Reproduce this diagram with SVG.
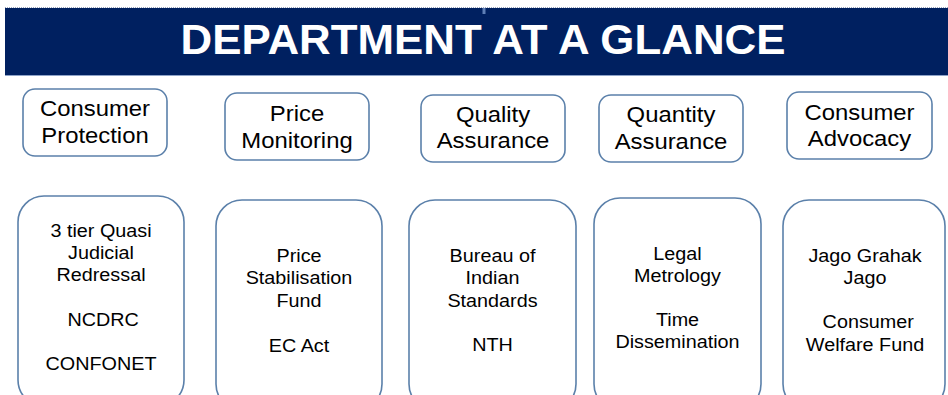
<svg xmlns="http://www.w3.org/2000/svg" width="948" height="395" viewBox="0 0 948 395">
  <style>
    .head { fill: #002060; }
    .box { fill: #ffffff; stroke: #5b80aa; stroke-width: 1.6; }
    .title { font-family: "Liberation Sans", Arial, sans-serif; font-weight: bold; font-size: 43px; fill: #ffffff; text-anchor: middle; }
    .lbl { font-family: "Liberation Sans", Arial, sans-serif; font-size: 22.3px; fill: #000000; text-anchor: middle; }
    .sub { font-family: "Liberation Sans", Arial, sans-serif; font-size: 18.5px; fill: #000000; text-anchor: middle; }
  </style>

  <rect width="948" height="395" fill="#ffffff"/>

  <!-- title band -->
  <g id="header">
    <line x1="5" y1="7.5" x2="948" y2="7.5" stroke="#9aa6c0" stroke-width="1" stroke-dasharray="1 1"/>
    <rect class="head" x="5" y="8" width="943" height="67"/>
    <line x1="5" y1="75.5" x2="948" y2="75.5" stroke="#8ea3c8" stroke-width="1"/>
    <rect x="482.5" y="8" width="3" height="6" fill="#5f7fb6"/>
    <text class="title" x="483" y="54" textLength="605" lengthAdjust="spacingAndGlyphs">DEPARTMENT AT A GLANCE</text>
  </g>

  <!-- function headings -->
  <g id="consumer-protection">
    <rect class="box" x="23" y="89" width="144" height="67" rx="12"/>
    <g transform="translate(95 0) scale(1.07 1)">
      <text class="lbl" x="0" y="116">Consumer</text>
      <text class="lbl" x="0" y="143">Protection</text>
    </g>
  </g>
  <g id="price-monitoring">
    <rect class="box" x="225" y="93" width="144" height="67" rx="12"/>
    <g transform="translate(297 0) scale(1.07 1)">
      <text class="lbl" x="0" y="121">Price</text>
      <text class="lbl" x="0" y="148">Monitoring</text>
    </g>
  </g>
  <g id="quality-assurance">
    <rect class="box" x="421" y="95" width="144" height="67" rx="12"/>
    <g transform="translate(493 0) scale(1.07 1)">
      <text class="lbl" x="0" y="122">Quality</text>
      <text class="lbl" x="0" y="148">Assurance</text>
    </g>
  </g>
  <g id="quantity-assurance">
    <rect class="box" x="599" y="95" width="144" height="67" rx="12"/>
    <g transform="translate(671 0) scale(1.07 1)">
      <text class="lbl" x="0" y="122">Quantity</text>
      <text class="lbl" x="0" y="149">Assurance</text>
    </g>
  </g>
  <g id="consumer-advocacy">
    <rect class="box" x="787" y="92" width="145" height="67" rx="12"/>
    <g transform="translate(859.5 0) scale(1.07 1)">
      <text class="lbl" x="0" y="120">Consumer</text>
      <text class="lbl" x="0" y="146">Advocacy</text>
    </g>
  </g>

  <!-- detail panels -->
  <g id="protection-detail">
    <rect class="box" x="18" y="196" width="166" height="210" rx="26"/>
    <g transform="translate(101 0) scale(1.07 1)">
      <text class="sub" x="0" y="237">3 tier Quasi</text>
      <text class="sub" x="0" y="259">Judicial</text>
      <text class="sub" x="0" y="281">Redressal</text>
      <text class="sub" x="2" y="326">NCDRC</text>
      <text class="sub" x="0" y="370">CONFONET</text>
    </g>
  </g>
  <g id="price-detail">
    <rect class="box" x="216" y="200" width="166" height="210" rx="26"/>
    <g transform="translate(299 0) scale(1.07 1)">
      <text class="sub" x="0" y="262">Price</text>
      <text class="sub" x="0" y="284.5">Stabilisation</text>
      <text class="sub" x="0" y="307">Fund</text>
      <text class="sub" x="0" y="352">EC Act</text>
    </g>
  </g>
  <g id="quality-detail">
    <rect class="box" x="409" y="200" width="167" height="210" rx="26"/>
    <g transform="translate(492.5 0) scale(1.07 1)">
      <text class="sub" x="0" y="262">Bureau of</text>
      <text class="sub" x="0" y="284.5">Indian</text>
      <text class="sub" x="0" y="307">Standards</text>
      <text class="sub" x="0" y="351">NTH</text>
    </g>
  </g>
  <g id="quantity-detail">
    <rect class="box" x="594" y="198" width="167" height="212" rx="26"/>
    <g transform="translate(677.5 0) scale(1.07 1)">
      <text class="sub" x="0" y="260">Legal</text>
      <text class="sub" x="0" y="282.5">Metrology</text>
      <text class="sub" x="0" y="326.5">Time</text>
      <text class="sub" x="0" y="348.5">Dissemination</text>
    </g>
  </g>
  <g id="advocacy-detail">
    <rect class="box" x="783" y="200" width="162" height="210" rx="26"/>
    <g transform="translate(865 0) scale(1.07 1)">
      <text class="sub" x="0" y="262">Jago Grahak</text>
      <text class="sub" x="0" y="284">Jago</text>
      <text class="sub" x="3" y="328">Consumer</text>
      <text class="sub" x="0" y="351">Welfare Fund</text>
    </g>
  </g>

  <!-- no connectors are drawn between the panels -->
  <g id="connectors"/>
</svg>
